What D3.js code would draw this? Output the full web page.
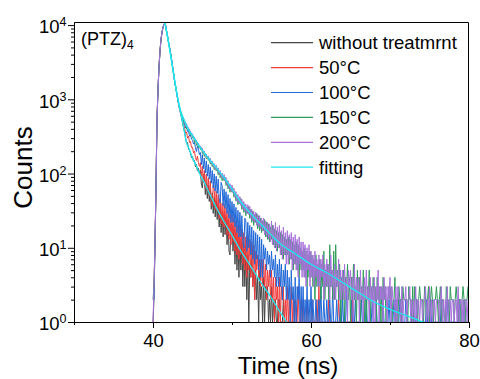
<!DOCTYPE html>
<html>
<head>
<meta charset="utf-8">
<script src="https://cdn.jsdelivr.net/npm/d3@7"></script>
<style>
	body { margin: 0; background: #fff; }
	text { font-family: Arial, "Liberation Sans", sans-serif; fill: #000; }
</style>
</head>
<body>
<div id="chart-area"></div>
<script>

// decay traces: counts per 0.125 ns channel starting at 40 ns (one row = 1 ns)
let startTime = 40;
let channelWidth = 0.125;

let countsNone = [
	1, 2, 10, 60, 500, 1300, 2600, 4300,
	6200, 7800, 9200, 10200, 10700, 9600, 7900, 6700,
	5600, 4800, 4000, 3300, 2650, 2150, 1720, 1450,
	1200, 990, 840, 720, 640, 550, 480, 410,
	362, 300, 258, 262, 212, 205, 190, 162,
	170, 146, 150, 124, 133, 108, 118, 100,
	110, 72, 64, 98, 86, 52, 74, 46,
	70, 42, 61, 33, 55, 29, 49, 26,
	44, 24, 40, 19, 35, 16, 31, 14,
	29, 15, 26, 11, 24, 9, 8, 21,
	20, 9, 18, 6, 16, 5, 14, 4,
	13, 5, 12, 3, 11, 3, 9, 2,
	8, 1, 6, 4, 7, 3, 5, 2,
	5, 2, 4, 1, 5, 2, 3, 1,
	4, 1, 3, 2, 3, 1, 2, 1,
	3, 1, 2, 1, 2, 1, 1, 2,
	2, 1, 1, 1, 2, 1, 1, 1,
	1, 1, 1, 1, 1, 1, 1, 1,
	1
];

let counts50 = [
	3, 3, 12, 60, 500, 1300, 2600, 4300,
	6200, 7800, 9200, 10200, 10700, 9600, 7900, 6700,
	5600, 4800, 4000, 3300, 2650, 2150, 1720, 1450,
	1215, 1010, 860, 740, 660, 590, 530, 470,
	410, 350, 362, 300, 318, 262, 270, 225,
	226, 190, 200, 164, 150, 172, 140, 125,
	140, 88, 126, 76, 110, 64, 98, 58,
	88, 50, 80, 42, 36, 70, 62, 33,
	58, 31, 52, 25, 46, 21, 40, 19,
	39, 19, 35, 15, 31, 13, 28, 11,
	28, 12, 25, 9, 23, 8, 20, 7,
	20, 8, 18, 6, 16, 5, 14, 4,
	15, 5, 13, 4, 12, 3, 11, 2,
	9, 5, 8, 4, 7, 3, 7, 3,
	7, 3, 6, 2, 5, 3, 5, 2,
	5, 2, 4, 1, 4, 2, 3, 1,
	4, 1, 3, 2, 3, 1, 2, 1,
	3, 1, 2, 1, 3, 1, 2, 1,
	2, 1, 1, 3, 1, 1, 2, 1,
	2, 1, 1, 1, 2, 1, 1, 1,
	1, 2, 1, 1, 1, 1, 2, 1,
	3, 1, 1, 1, 1, 1, 1, 1,
	1, 1, 2, 1, 1, 1, 1, 1,
	1, 1, 1, 1, 2, 1, 1, 1,
	1, 1, 1, 1, 1, 1, 1, 1,
	1, 1, 2, 1, 1, 1, 1, 1,
	1
];

let counts100 = [
	2, 2, 12, 60, 500, 1300, 2600, 4300,
	6200, 7800, 9200, 10200, 10700, 9600, 7900, 6700,
	5600, 4800, 4000, 3300, 2650, 2150, 1720, 1450,
	1220, 1015, 865, 750, 670, 605, 555, 505,
	470, 410, 430, 366, 372, 318, 330, 292,
	281, 250, 262, 222, 198, 236, 212, 180,
	192, 132, 180, 116, 162, 102, 148, 92,
	132, 84, 122, 74, 110, 64, 99, 58,
	92, 54, 84, 46, 40, 76, 68, 37,
	62, 34, 57, 29, 52, 25, 46, 22,
	42, 22, 39, 19, 35, 16, 32, 14,
	30, 14, 27, 12, 10, 25, 23, 9,
	22, 10, 20, 8, 19, 7, 17, 6,
	16, 7, 15, 5, 14, 4, 13, 4,
	11, 7, 10, 5, 9, 6, 8, 4,
	9, 5, 7, 4, 8, 3, 6, 3,
	7, 3, 6, 2, 5, 3, 6, 2,
	5, 2, 4, 1, 5, 2, 3, 1,
	4, 1, 3, 2, 4, 1, 3, 1,
	3, 1, 2, 1, 3, 1, 2, 1,
	3, 1, 2, 1, 1, 2, 1, 1,
	2, 1, 3, 1, 1, 2, 1, 1,
	2, 1, 1, 2, 1, 1, 3, 1,
	1, 1, 2, 1, 1, 1, 2, 1,
	2, 1, 1, 1, 3, 1, 1, 1,
	1, 2, 1, 1, 1, 2, 1, 1,
	1, 1, 1, 2, 1, 1, 1, 1,
	2, 1, 1, 1, 1, 1, 2, 1,
	1, 1, 2, 1, 1, 1, 1, 1,
	1, 2, 1, 1, 1, 1, 1, 2,
	1, 1, 1, 1, 2, 1, 1, 1,
	1, 1, 2, 1, 1, 1, 1, 1,
	2, 1, 1, 1, 1, 1, 1, 1,
	1, 1, 1, 2, 1, 1, 1, 1,
	1, 1, 1, 1, 1, 2, 1, 1,
	1, 2, 1, 1, 1, 1, 1, 1,
	1, 1, 1, 1, 2, 1, 1, 1,
	1, 1, 2, 1, 1, 1, 1, 1,
	1, 1, 1, 1, 1, 1, 2, 1,
	1, 1, 1, 2, 1, 1, 1, 1
];

let counts150 = [
	2, 3, 11, 60, 500, 1300, 2600, 4300,
	6200, 7800, 9200, 10200, 10700, 9600, 7900, 6700,
	5600, 4800, 4000, 3300, 2650, 2150, 1720, 1450,
	1225, 1025, 875, 765, 685, 625, 580, 535,
	470, 488, 400, 430, 372, 390, 330, 352,
	300, 318, 262, 290, 240, 262, 222, 236,
	210, 224, 186, 201, 170, 185, 158, 170,
	150, 162, 134, 147, 124, 136, 113, 125,
	108, 119, 96, 108, 88, 99, 80, 92,
	80, 89, 69, 80, 62, 72, 56, 66,
	56, 64, 48, 57, 43, 52, 38, 46,
	39, 46, 33, 41, 30, 38, 27, 35,
	29, 36, 25, 33, 22, 31, 20, 28,
	22, 29, 18, 27, 17, 25, 16, 23,
	17, 24, 14, 22, 13, 21, 12, 19,
	13, 20, 11, 18, 10, 17, 9, 16,
	10, 16, 8, 15, 7, 14, 8, 13,
	8, 14, 6, 13, 7, 12, 5, 11,
	6, 12, 5, 11, 4, 10, 5, 9,
	5, 10, 4, 9, 3, 8, 4, 9,
	4, 8, 3, 7, 2, 8, 3, 6,
	3, 7, 2, 6, 3, 9, 2, 5,
	3, 6, 2, 11, 3, 5, 2, 9,
	2, 11, 3, 5, 2, 6, 1, 4,
	2, 5, 1, 4, 3, 6, 2, 4,
	1, 4, 2, 6, 2, 3, 1, 5,
	2, 4, 1, 3, 2, 5, 1, 3,
	1, 3, 2, 5, 1, 3, 2, 4,
	2, 3, 1, 4, 2, 3, 1, 3,
	1, 4, 2, 3, 1, 2, 2, 3,
	2, 3, 1, 2, 2, 4, 1, 2,
	1, 3, 2, 2, 1, 3, 2, 2,
	2, 2, 1, 3, 2, 2, 1, 3,
	1, 3, 2, 2, 1, 2, 3, 2,
	2, 2, 1, 3, 2, 1, 2, 3,
	1, 2, 3, 2, 1, 2, 2, 3,
	2, 1, 2, 3, 1, 2, 2, 1,
	1, 3, 2, 2, 1, 3, 2, 2,
	2, 1, 2, 3, 2, 1, 2, 2,
	1, 2, 3, 2, 1, 2, 2, 3
];

let counts200 = [
	1, 3, 12, 60, 500, 1300, 2600, 4300,
	6200, 7800, 9200, 10200, 10700, 9600, 7900, 6700,
	5600, 4800, 4000, 3300, 2650, 2150, 1720, 1450,
	1230, 1030, 880, 770, 690, 635, 590, 550,
	518, 455, 470, 402, 415, 362, 371, 338,
	341, 301, 310, 272, 281, 244, 256, 226,
	236, 207, 219, 188, 200, 171, 183, 160,
	173, 150, 160, 137, 147, 125, 136, 115,
	129, 109, 119, 98, 110, 90, 101, 84,
	97, 79, 88, 70, 80, 63, 73, 58,
	70, 55, 63, 48, 57, 42, 52, 40,
	49, 37, 45, 33, 42, 31, 39, 29,
	38, 28, 36, 25, 33, 23, 31, 22,
	30, 20, 28, 19, 27, 18, 25, 17,
	25, 15, 23, 14, 22, 13, 21, 12,
	23, 11, 20, 10, 22, 9, 19, 10,
	20, 8, 17, 7, 19, 8, 16, 6,
	17, 6, 15, 7, 16, 5, 14, 6,
	15, 5, 13, 4, 14, 6, 12, 4,
	12, 4, 11, 3, 10, 5, 11, 3,
	9, 4, 8, 3, 9, 4, 7, 3,
	8, 3, 7, 4, 8, 2, 6, 3,
	7, 3, 6, 2, 8, 3, 5, 2,
	6, 2, 5, 3, 7, 2, 5, 2,
	5, 2, 6, 2, 4, 1, 5, 3,
	5, 2, 4, 1, 6, 2, 4, 2,
	4, 1, 5, 2, 3, 1, 4, 2,
	5, 2, 3, 1, 4, 2, 3, 1,
	4, 1, 3, 2, 5, 1, 3, 2,
	3, 1, 4, 2, 3, 1, 3, 2,
	4, 1, 3, 2, 2, 1, 3, 1,
	3, 2, 2, 1, 3, 1, 2, 2,
	3, 1, 2, 2, 3, 1, 2, 1,
	2, 1, 3, 1, 2, 2, 1, 2,
	2, 1, 2, 2, 3, 1, 2, 1,
	3, 1, 2, 1, 2, 2, 1, 2,
	2, 2, 1, 2, 3, 1, 2, 1,
	2, 1, 3, 1, 2, 2, 1, 2,
	2, 1, 2, 2, 1, 3, 1, 2,
	2, 1, 2, 1, 2, 2, 1, 2
];

// fitted curves (ns, counts)
let fitSlowTimes  = [41.5, 42, 42.5, 43, 43.5, 44, 44.5, 45, 46, 47, 48, 49, 50, 51, 52, 53, 54, 55, 56, 58, 60, 62, 64, 66, 68, 70, 72, 74.2];
let fitSlowCounts = [10700, 5600, 2600, 1230, 690, 510, 390, 324, 224, 162, 120, 88, 62, 43, 32, 24.5, 19, 14.8, 11.6, 8.3, 6.0, 4.6, 3.4, 2.5, 1.86, 1.48, 1.23, 1.0];

let fitFastTimes  = [41.5, 42, 42.5, 43, 43.5, 43.75, 44, 44.25, 44.5, 45, 45.5, 46, 46.5, 47, 48, 49, 50, 51, 52, 53, 54, 55, 56, 56.9];
let fitFastCounts = [10700, 5600, 2600, 1230, 660, 490, 355, 257, 224, 162, 126, 95, 76, 58, 35, 22.4, 14.8, 9.5, 6.5, 4.4, 3.0, 2.1, 1.4, 1.0];

let seriesNames  = ["without treatmrnt", "50°C", "100°C", "150°C", "200°C"];
let seriesCounts = [countsNone, counts50, counts100, counts150, counts200];
let seriesColors = ["#454545", "#f23b3b", "#2068d8", "#2e9e5a", "#a871dc"];
let fitColor = "#1de9f0";

let xMajorTicks = [40, 60, 80];
let xMinorTicks = [30, 50, 70];
let yMajorTicks = [1, 10, 100, 1000, 10000];
let yTickExponents = ["0", "1", "2", "3", "4"];


let margin = {top: 22, right: 11, bottom: 57, left: 74};
let width = 480 - margin.left - margin.right;
let height = 379 - margin.top - margin.bottom;

let svg = d3.select("#chart-area").append("svg")
		.attr("width", width + margin.left + margin.right)
		.attr("height", height + margin.top + margin.bottom)
	.append("g")
		.attr("transform", "translate(" + margin.left + "," + margin.top + ")");

let xscale = d3.scaleLinear().domain([30, 80]).range([0, width]);
let yscale = d3.scaleLog().domain([1, 11000]).range([height, 0]).clamp(true);

// minor ticks 2..9 of each decade
let yMinorTicks = [];
yMajorTicks.slice(0, -1).forEach(b => {
	for (let k = 2; k <= 9; k++) yMinorTicks.push(b * k);
});

svg.append("clipPath").attr("id", "plot-clip")
	.append("rect").attr("width", width).attr("height", height);

let plot = svg.append("g").attr("clip-path", "url(#plot-clip)");

let traceLine = d3.line()
	.x((d, i) => xscale(startTime + i * channelWidth))
	.y(d => yscale(d));

seriesCounts.forEach((counts, i) => {
	plot.append("path")
		.datum(counts)
		.attr("fill", "none")
		.attr("stroke", seriesColors[i])
		.attr("stroke-width", 1)
		.attr("d", traceLine);
});

let fitLine = d3.line()
	.x(d => xscale(d[0]))
	.y(d => yscale(d[1]))
	.curve(d3.curveMonotoneX);

[[fitFastTimes, fitFastCounts], [fitSlowTimes, fitSlowCounts]].forEach(f => {
	plot.append("path")
		.datum(d3.zip(f[0], f[1]))
		.attr("fill", "none")
		.attr("stroke", fitColor)
		.attr("stroke-width", 1.3)
		.attr("d", fitLine);
});

// frame (top & right)
svg.append("path")
	.attr("d", "M0.5,0.5H" + (width - 0.5) + "V" + height)
	.attr("fill", "none")
	.attr("stroke", "#000")
	.attr("stroke-width", 1);

// Axes
let xAxisMinor = d3.axisBottom(xscale).tickValues(xMinorTicks).tickSize(3).tickSizeOuter(0).tickFormat("");
let xAxis = d3.axisBottom(xscale).tickValues(xMajorTicks).tickSize(6).tickSizeOuter(0).tickPadding(6);

svg.append("g").attr("class", "axis x-axis")
	.attr("transform", "translate(0," + height + ")")
	.call(xAxisMinor);
let xAxisGroup = svg.append("g").attr("class", "axis x-axis")
	.attr("transform", "translate(0," + height + ")")
	.call(xAxis);
xAxisGroup.selectAll("text").style("font-size", "18.5px");

let yAxisMinor = d3.axisLeft(yscale).tickValues(yMinorTicks).tickSize(3).tickSizeOuter(0).tickFormat("");
let yAxis = d3.axisLeft(yscale).tickValues(yMajorTicks).tickSize(6).tickSizeOuter(0).tickPadding(1.5);

svg.append("g").attr("class", "axis y-axis").call(yAxisMinor);
let yAxisGroup = svg.append("g").attr("class", "axis y-axis").call(yAxis);

yAxisGroup.selectAll(".tick text")
	.attr("dy", null)
	.attr("y", 7.7)
	.text("")
	.each(function(d, i) {
		let t = d3.select(this);
		t.append("tspan").style("font-size", "18.5px").text("10");
		t.append("tspan").style("font-size", "12.5px").attr("dy", -7).text(yTickExponents[i]);
	});

svg.selectAll(".axis path, .axis line").attr("stroke", "#000");

// axis titles
svg.append("text")
	.attr("x", 214)
	.attr("y", height + 52)
	.style("text-anchor", "middle")
	.style("font-size", "24px")
	.text("Time (ns)");

svg.append("text")
	.attr("transform", "translate(" + (31.5 - margin.left) + "," + (167.5 - margin.top) + ") rotate(-90)")
	.style("text-anchor", "middle")
	.style("font-size", "26px")
	.text("Counts");

// sample label
let label = svg.append("text")
	.attr("x", 81 - margin.left)
	.attr("y", 45 - margin.top)
	.style("font-size", "18px");
label.append("tspan").text("(PTZ)");
label.append("tspan").attr("dy", 3.5).style("font-size", "12px").text("4");

// legend
let legendNames = seriesNames.concat(["fitting"]);
let legendColors = seriesColors.concat([fitColor]);

let legend = svg.append("g")
	.attr("transform", "translate(" + (271 - margin.left) + "," + (42.7 - margin.top) + ")");

legendNames.forEach((name, i) => {
	let row = legend.append("g").attr("transform", "translate(0," + (i * 24.9) + ")");
	row.append("line")
		.attr("x1", 0).attr("x2", 42)
		.attr("y1", 0).attr("y2", 0)
		.attr("stroke", legendColors[i])
		.attr("stroke-width", 1.2);
	row.append("text")
		.attr("x", 48)
		.attr("y", 6.5)
		.style("font-size", "18.5px")
		.text(name);
});

</script>
</body>
</html>
